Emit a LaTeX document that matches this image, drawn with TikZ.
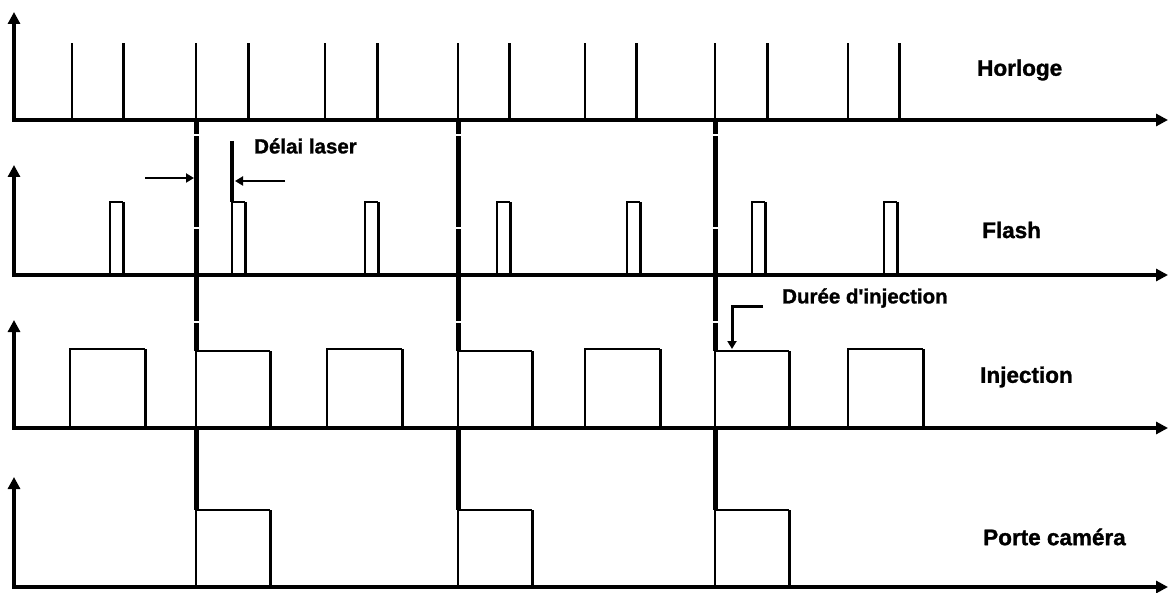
\documentclass[tikz,border=0pt]{standalone}
\usepackage{fontspec}
\setmainfont{Liberation Sans}
\newfontfamily\heavy[FakeBold=1.3]{Liberation Sans Bold}
\usetikzlibrary{arrows.meta}
\begin{document}
\begin{tikzpicture}[x=1pt,y=-1pt,
  axisline/.style={line width=3.2pt,line join=miter},
  thinline/.style={line width=1.6pt},
  thickline/.style={line width=3pt},
  marker/.style={line width=5pt},
  gap/.style={white,line width=1.2pt},
  lbl/.style={font=\fontsize{22.5}{25}\heavy,anchor=west,inner sep=0pt},
  small/.style={font=\fontsize{20.5}{23}\heavy,anchor=west,inner sep=0pt},
  dim/.style={line width=2.5pt,-{Triangle[length=8pt,width=9pt]}}]
\useasboundingbox (0,0) rectangle (1169,593);
% axes
\foreach \b/\t in {120/12,275/165,428/320,587/477}{
  \draw[axisline,{Triangle[length=12pt,width=12pt]}-{Triangle[length=12pt,width=12pt]}]
    (14,\t) -- (14,\b) -- (1168,\b);
}
% clock
\foreach \x in {72,196,325,458,585,715,848}{\draw[thinline] (\x,120) -- (\x,43);}
\foreach \x in {123,248,377,509,636,767,899}{\draw[thickline] (\x,120) -- (\x,43);}
% flash pulses
\foreach \x in {110,232,365,497,627,752,884}{
  \draw[thinline] (\x,275) |- (\x+13,202);
  \draw[thickline] (\x+13,202) -- (\x+13,275);}
% injection
\foreach \x in {70,327,585,848}{
  \draw[thinline] (\x,428) |- (\x+75,349);
  \draw[thickline] (\x+75,349) -- (\x+75,428);}
\foreach \x in {196,458,715}{
  \draw[thinline] (\x,428) |- (\x+74,351);
  \draw[thickline] (\x+74,351) -- (\x+74,428);
  % camera gate
  \draw[thinline] (\x,587) |- (\x+74,510);
  \draw[thickline] (\x+74,510) -- (\x+74,587);
  % markers
  \draw[marker] (\x,120) -- (\x,351);
  \draw[marker] (\x,428) -- (\x,510);
  \foreach \g in {135,228,322}{\draw[gap] (\x-4,\g) -- (\x+4,\g);}
}
% labels
\node[lbl] (hor) at (977,70) {Horloge};
\node[lbl] (fla) at (982,230) {Flash};
\node[lbl] (inj) at (980,377) {Injection};
\node[lbl] (por) at (983,537) {Porte caméra};
% delai laser
\node[small] (dl) at (254,146) {Délai laser};
\draw[line width=3.5pt] (232,141) -- (232,202);
\coordinate (a1s) at (145,178);
\coordinate (a1e) at (194,178);
\coordinate (a2s) at (285,181);
\coordinate (a2e) at (235,181);
\draw[dim] (a1s) -- (a1e);
\draw[dim] (a2s) -- (a2e);
% duree d'injection
\node[small] (di) at (782,298) {Durée d'injection};
\coordinate (d1) at (763,307);
\coordinate (d2) at (732,307);
\coordinate (d3) at (732,349);
\draw[dim,line width=3pt] (d1) -- (d2) -- (d3);
\end{tikzpicture}
\end{document}
